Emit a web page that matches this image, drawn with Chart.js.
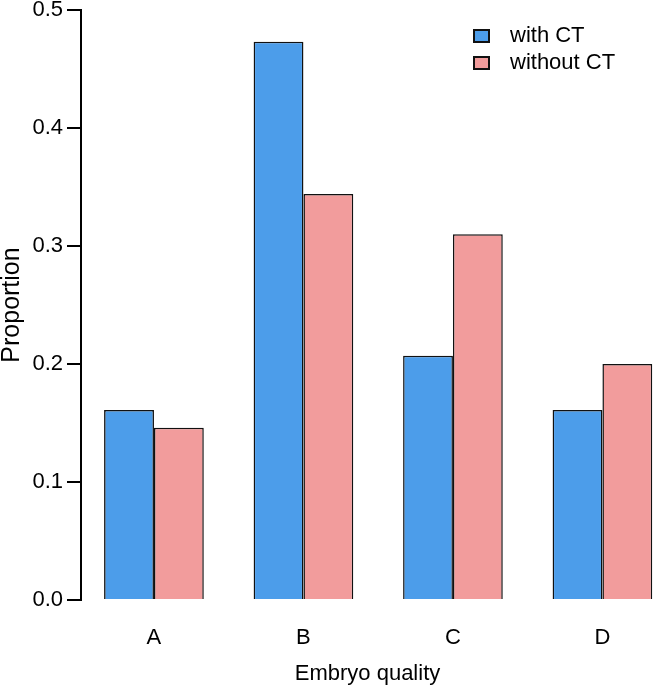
<!DOCTYPE html>
<html>
<head>
<meta charset="utf-8">
<script src="https://cdn.jsdelivr.net/npm/chart.js@4/dist/chart.umd.min.js"></script>
<style>
    html, body { margin: 0; padding: 0; background: #fff; overflow: hidden; }
    #wrap { width: 654px; height: 689px; position: relative; }
</style>
</head>
<body>
<div id="wrap"><canvas id="barChart"></canvas></div>
<script>
const categories = ['A', 'B', 'C', 'D']
const withCT = [0.161, 0.473, 0.207, 0.161]
const withoutCT = [0.146, 0.344, 0.310, 0.200]
const yTicks = [0.0, 0.1, 0.2, 0.3, 0.4, 0.5]
const seriesNames = ['with CT', 'without CT']

const FONT = '"Liberation Sans", Arial, Helvetica, sans-serif'
const colors = {
    blue: '#4C9DEA',
    pink: '#F29C9C',
}

// little legend in the top right, like R's legend(bty = "n")
const boxLegend = {
    id: 'boxLegend',
    afterDraw(chart) {
        const ctx = chart.ctx
        ctx.save()
        ctx.font = '22px ' + FONT
        ctx.textBaseline = 'middle'
        ctx.fillStyle = '#000'
        chart.data.datasets.forEach(function(ds, i) {
            const y = 36 + i * 27
            ctx.fillStyle = ds.backgroundColor
            ctx.fillRect(474, y - 6, 15, 12)
            ctx.lineWidth = 2
            ctx.strokeStyle = '#111'
            ctx.strokeRect(474, y - 6, 15, 12)
            ctx.fillStyle = '#000'
            ctx.fillText(ds.label, 510, y)
        })
        ctx.restore()
    }
}

function toPoints(values) {
    return values.map((v, i) => ({x: i, y: v}))
}

document.addEventListener('DOMContentLoaded', function(){
    const canvas = document.getElementById('barChart').getContext('2d')
    new Chart(canvas, {
        type: 'bar',
        data: {
            datasets: [{
                label: seriesNames[0],
                data: toPoints(withCT),
                backgroundColor: colors.blue,
                borderColor: '#111',
                borderWidth: 1.5,
                categoryPercentage: 2 / 3,
                barPercentage: 1,
            }, {
                label: seriesNames[1],
                data: toPoints(withoutCT),
                backgroundColor: colors.pink,
                borderColor: '#111',
                borderWidth: 1.5,
                categoryPercentage: 2 / 3,
                barPercentage: 1,
            }]
        },
        options: {
            responsive: true,
            maintainAspectRatio: false,
            animation: false,
            layout: { padding: { top: 10, right: 0, bottom: 0, left: 0 } },
            plugins: {
                legend: { display: false },
                tooltip: { enabled: false },
            },
            scales: {
                x: {
                    type: 'linear',
                    offset: false,
                    min: -0.488,
                    max: 3.345,
                    grid: { display: false },
                    border: { display: false },
                    ticks: {
                        stepSize: 1,
                        includeBounds: false,
                        autoSkip: false,
                        maxRotation: 0,
                        padding: 17,
                        color: '#000',
                        font: { family: FONT, size: 22 },
                        callback: function(value) {
                            return Number.isInteger(value) && categories[value] ? categories[value] : ''
                        }
                    },
                    title: {
                        display: true,
                        text: 'Embryo quality',
                        color: '#000',
                        font: { family: FONT, size: 22 },
                        padding: { top: 0, bottom: 2 },
                    },
                    afterFit: function(scale) {
                        scale.height = 89
                        scale.paddingLeft = 0
                        scale.paddingRight = 0
                    }
                },
                y: {
                    min: 0,
                    max: 0.5,
                    grid: {
                        drawOnChartArea: false,
                        drawTicks: true,
                        tickLength: 14,
                        color: '#000',
                        lineWidth: 2,
                    },
                    border: { display: true, color: '#000', width: 2 },
                    afterBuildTicks: function(scale) {
                        scale.ticks = yTicks.map(v => ({value: v}))
                    },
                    ticks: {
                        padding: 4,
                        color: '#000',
                        font: { family: FONT, size: 22 },
                        callback: v => v.toFixed(1),
                    },
                    title: {
                        display: true,
                        text: 'Proportion',
                        color: '#000',
                        font: { family: FONT, size: 25, lineHeight: 1 },
                        padding: { top: 0, bottom: 0 },
                    },
                    afterFit: function(scale) {
                        scale.width = 81
                        scale.paddingTop = 0
                        scale.paddingBottom = 0
                    }
                }
            }
        },
        plugins: [boxLegend]
    })
})
</script>
</body>
</html>
